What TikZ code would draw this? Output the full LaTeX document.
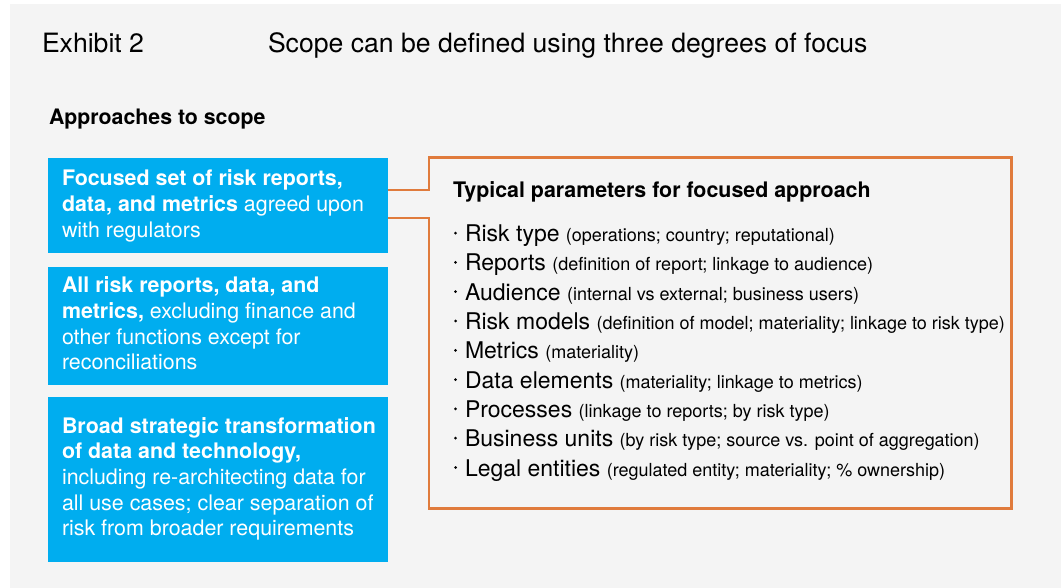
\documentclass[tikz,border=0pt]{standalone}
\usepackage{fontspec}
\setmainfont{TeX Gyre Heros}
\definecolor{bg}{HTML}{F4F4F4}
\definecolor{blu}{HTML}{00ADEF}
\definecolor{org}{HTML}{E07B3C}
\newcommand{\notefont}{\fontsize{18}{20}\selectfont}
\begin{document}
\begin{tikzpicture}[x=1pt,y=-1pt,
  txt/.style={anchor=base west, inner sep=0pt, outer sep=0pt},
  boxtxt/.style={txt, text=white, font=\fontsize{21.4}{25.7}\selectfont},
  blubox/.style={fill=blu, draw=none, inner sep=0pt, outer sep=0pt, anchor=north west, minimum width=340pt},
  item/.style={txt, font=\fontsize{23}{28}\selectfont},
  callout/.style={draw=org, line width=2.2pt, line join=miter}
]
\useasboundingbox (0,0) rectangle (1061,588);
\fill[bg] (10,4) rectangle (1061,588);

% titles
\node[txt, font=\fontsize{26.6}{30}\selectfont] (exh) at (42,53) {Exhibit 2};
\node[txt, font=\fontsize{26.6}{30}\selectfont] (title) at (268,53) {Scope can be defined using three degrees of focus};
\node[txt, font=\fontsize{21.3}{25}\selectfont\bfseries] (appr) at (49,124.5) {Approaches to scope};

% blue boxes
\node[blubox, minimum height=95.5pt] (box1) at (48,158) {};
\node[blubox, minimum height=118pt] (box2) at (48,267) {};
\node[blubox, minimum height=165pt] (box3) at (48,397) {};

\node[boxtxt] (b1a) at (62,186) {\bfseries Focused set of risk reports,};
\node[boxtxt] (b1b) at (62,212) {\textbf{data, and metrics} agreed upon};
\node[boxtxt] (b1c) at (62,238) {with regulators};

\node[boxtxt] (b2a) at (62,293) {\bfseries All risk reports, data, and};
\node[boxtxt] (b2b) at (62,319) {\textbf{metrics,} excluding finance and};
\node[boxtxt] (b2c) at (62,344.5) {other functions except for};
\node[boxtxt] (b2d) at (62,370) {reconciliations};

\node[boxtxt] (b3a) at (62,433) {\bfseries Broad strategic transformation};
\node[boxtxt] (b3b) at (62,458.5) {\bfseries of data and technology,};
\node[boxtxt] (b3c) at (62,484) {including re-architecting data for};
\node[boxtxt] (b3d) at (62,510) {all use cases; clear separation of};
\node[boxtxt] (b3e) at (62,535.5) {risk from broader requirements};

% orange callout frame
\coordinate (c1) at (429,190);
\coordinate (c2) at (429,218);
\draw[callout] (box1.east |- c1) -- (c1) -- (429,157.5) -- (1011.5,157.5) -- (1011.5,508.5) -- (429,508.5) -- (c2) -- (box1.east |- c2);

\node[txt, font=\fontsize{21.4}{25}\selectfont\bfseries] (typ) at (453,198) {Typical parameters for focused approach};

\node[item] (p1) at (465,241.7) {Risk type {\notefont(operations; country; reputational)}};
\node[item] (p2) at (465,271.0) {Reports {\notefont(definition of report; linkage to audience)}};
\node[item] (p3) at (465,300.3) {Audience {\notefont(internal vs external; business users)}};
\node[item] (p4) at (465,329.6) {Risk models {\notefont(definition of model; materiality; linkage to risk type)}};
\node[item] (p5) at (465,358.9) {Metrics {\notefont(materiality)}};
\node[item] (p6) at (465,388.2) {Data elements {\notefont(materiality; linkage to metrics)}};
\node[item] (p7) at (465,417.5) {Processes {\notefont(linkage to reports; by risk type)}};
\node[item] (p8) at (465,446.8) {Business units {\notefont(by risk type; source vs. point of aggregation)}};
\node[item] (p9) at (465,476.1) {Legal entities {\notefont(regulated entity; materiality; \% ownership)}};
\foreach \i in {1,...,9}
  \fill ([shift={(-9.5,-8.6)}]p\i.base west) circle (1.5pt);
\end{tikzpicture}
\end{document}
